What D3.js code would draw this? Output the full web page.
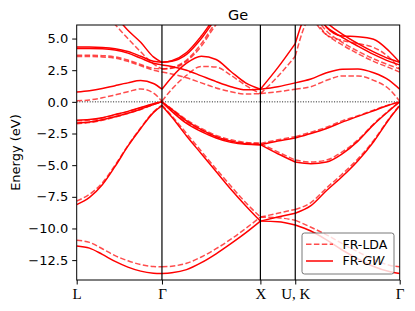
<!DOCTYPE html>
<html>
<head>
<meta charset="utf-8">
<script src="https://cdn.jsdelivr.net/npm/d3@7"></script>
<style>
  body { margin: 0; background: #fff; }
  svg { display: block; }
</style>
</head>
<body>
<div id="chart"></div>
<script>
"use strict"

// k-path: high-symmetry points and labels
let kTicks = [0, 0.866, 1.866, 2.220, 3.281];
let kLabels = ["L", "Γ", "X", "U, K", "Γ"];
let yTicks = [-12.5, -10, -7.5, -5, -2.5, 0, 2.5, 5];

// sample points along the path (L-Γ, Γ-X, X-U, K-Γ)
let kPoints = [0, 0.130, 0.260, 0.390, 0.520, 0.650, 0.779, 0.866,
    0.966, 1.116, 1.266, 1.416, 1.566, 1.716, 1.866,
    2.043, 2.220,
    2.379, 2.538, 2.697, 2.857, 3.016, 3.175, 3.281];
let segBreaks = [0, 7, 14, 16, 23];

// FR-GW bands (eV)
let gw1 = [-11.38, -11.55, -12.05, -12.6, -13.05, -13.37, -13.53, -13.56, -13.5, -13.25, -12.7, -12.0, -11.2, -10.35, -9.42, -9.46, -9.72, -10.2, -10.9, -11.7, -12.4, -13.0, -13.4, -13.56];
let gw2 = [-8.12, -7.55, -6.55, -5.1, -3.5, -2.1, -0.85, -0.3, -1.2, -2.7, -4.1, -5.5, -6.9, -8.2, -9.42, -9.1, -8.8, -8.2, -7.0, -5.9, -4.65, -3.15, -1.35, -0.3];
let gw3 = [-1.68, -1.6, -1.42, -1.17, -0.9, -0.58, -0.22, 0, -0.75, -1.7, -2.35, -2.85, -3.2, -3.35, -3.38, -4.1, -4.75, -4.88, -4.75, -4.1, -3.1, -1.8, -0.7, 0];
let gw4 = [-1.45, -1.4, -1.25, -1.0, -0.75, -0.45, -0.15, 0, -0.6, -1.5, -2.2, -2.75, -3.1, -3.3, -3.38, -3.1, -2.85, -2.5, -2.1, -1.6, -1.15, -0.7, -0.25, 0];
let gw5 = [0.78, 0.88, 1.05, 1.28, 1.5, 1.68, 1.45, 1.0, 1.95, 3.05, 3.6, 3.35, 2.4, 1.5, 1.0, 1.2, 1.5, 1.8, 2.3, 2.58, 2.6, 2.3, 1.7, 1.0];
let gw6 = [4.22, 4.22, 4.2, 4.1, 3.85, 3.45, 3.05, 2.92, 2.8, 2.5, 2.05, 1.6, 1.2, 0.95, 1.0, 2.7, 4.6, 7.3, 5.9, 5.1, 4.4, 3.75, 3.2, 2.92];
let gw7 = [4.33, 4.33, 4.3, 4.2, 3.97, 3.6, 3.2, 3.12, 3.25, 3.9, 5.2, 6.8, 8.0, 8.8, 9.2, 9.4, 9.5, 8.0, 6.3, 5.35, 4.6, 3.95, 3.4, 3.12];
let gw8 = [9.0, 8.5, 7.8, 6.8, 5.65, 4.7, 3.55, 3.12, 3.2, 3.75, 5.0, 6.6, 7.8, 8.6, 9.0, 9.6, 9.8, 8.5, 5.9, 5.2, 5.15, 4.95, 4.0, 3.12];

// FR-LDA bands (eV)
let lda1 = [-10.93, -11.1, -11.6, -12.15, -12.55, -12.85, -13.0, -13.03, -12.98, -12.75, -12.25, -11.6, -10.85, -10.0, -9.1, -9.15, -9.35, -9.9, -10.5, -11.2, -11.85, -12.45, -12.9, -13.03];
let lda2 = [-7.83, -7.3, -6.4, -5.0, -3.45, -2.05, -0.8, -0.25, -1.1, -2.5, -3.9, -5.3, -6.65, -7.95, -9.1, -8.8, -8.5, -7.95, -6.8, -5.7, -4.5, -3.05, -1.3, -0.25];
let lda3 = [-1.72, -1.64, -1.46, -1.2, -0.92, -0.6, -0.22, 0, -0.7, -1.6, -2.25, -2.75, -3.1, -3.25, -3.28, -3.95, -4.6, -4.75, -4.6, -3.95, -3.0, -1.75, -0.65, 0];
let lda4 = [-1.5, -1.44, -1.28, -1.03, -0.77, -0.47, -0.16, 0, -0.55, -1.42, -2.1, -2.65, -3.0, -3.2, -3.28, -3.0, -2.75, -2.4, -2.0, -1.5, -1.1, -0.65, -0.22, 0];
let lda5 = [0.08, 0.15, 0.32, 0.55, 0.8, 1.02, 0.7, 0.05, 1.0, 2.1, 2.8, 2.75, 2.1, 1.3, 0.65, 0.8, 1.0, 1.2, 1.7, 2.05, 2.05, 1.7, 1.0, 0.05];
let lda6 = [3.58, 3.58, 3.55, 3.45, 3.2, 2.85, 2.5, 2.35, 2.2, 1.9, 1.5, 1.1, 0.8, 0.62, 0.65, 2.0, 3.6, 6.6, 5.3, 4.5, 3.8, 3.2, 2.7, 2.35];
let lda7 = [3.68, 3.68, 3.65, 3.55, 3.3, 2.95, 2.65, 2.6, 2.7, 3.3, 4.6, 6.3, 7.5, 8.3, 8.8, 9.0, 9.2, 7.2, 5.6, 4.7, 4.0, 3.4, 2.9, 2.6];
let lda8 = [8.5, 8.0, 7.2, 6.1, 5.0, 3.95, 3.0, 2.6, 2.65, 3.2, 4.4, 6.1, 7.3, 8.1, 8.6, 9.2, 9.4, 6.8, 5.3, 4.85, 4.6, 4.3, 3.5, 2.6];

let gwBands = [gw1, gw2, gw3, gw4, gw5, gw6, gw7, gw8];
let ldaBands = [lda1, lda2, lda3, lda4, lda5, lda6, lda7, lda8];

let drawingWidth = 415;
let drawingHeight = 311;
let plotLeft = 76.7, plotRight = 399.7, plotTop = 25, plotBottom = 280;

let drawing = d3.select("#chart")
    .append("svg")
    .attr("width", drawingWidth)
    .attr("height", drawingHeight);

let x = d3.scaleLinear().domain([0, 3.281]).range([plotLeft, plotRight]);
let y = d3.scaleLinear().domain([-14.07, 6.07]).range([plotBottom, plotTop]);

drawing.append("clipPath").attr("id", "plotclip")
    .append("rect")
    .attr("x", plotLeft).attr("y", plotTop)
    .attr("width", plotRight - plotLeft).attr("height", plotBottom - plotTop);

let plot = drawing.append("g").attr("clip-path", "url(#plotclip)");

// zero line
plot.append("line")
    .attr("x1", plotLeft).attr("x2", plotRight)
    .attr("y1", y(0)).attr("y2", y(0))
    .attr("stroke", "black")
    .attr("stroke-width", 0.9)
    .attr("stroke-dasharray", "1,1.6");

let line = d3.line()
    .x(d => x(d[0]))
    .y(d => y(d[1]))
    .curve(d3.curveMonotoneX);

/* each band is drawn segment by segment so kinks stay at the symmetry points */
function drawBands(bands, color, width, dash, opacity) {
    bands.forEach(band => {
        for (let s = 0; s < segBreaks.length - 1; s++) {
            let pts = [];
            for (let i = segBreaks[s]; i <= segBreaks[s + 1]; i++) {
                pts.push([kPoints[i], band[i]]);
            }
            plot.append("path")
                .attr("d", line(pts))
                .attr("fill", "none")
                .attr("stroke", color)
                .attr("stroke-width", width)
                .attr("stroke-opacity", opacity)
                .attr("stroke-dasharray", dash);
        }
    });
}

drawBands(ldaBands, "red", 1.5, "5.5,2.4", 0.7);
drawBands(gwBands, "red", 1.5, null, 1);

// vertical lines at inner symmetry points
plot.selectAll(".kline")
    .data(kTicks.slice(1, 4))
    .enter().append("line")
    .attr("x1", d => x(d)).attr("x2", d => x(d))
    .attr("y1", plotTop).attr("y2", plotBottom)
    .attr("stroke", "black")
    .attr("stroke-width", 1.2);

// frame
drawing.append("rect")
    .attr("x", plotLeft).attr("y", plotTop)
    .attr("width", plotRight - plotLeft).attr("height", plotBottom - plotTop)
    .attr("fill", "none")
    .attr("stroke", "black")
    .attr("stroke-width", 1);

// axes
let yAxis = drawing.append("g")
    .attr("transform", `translate(${plotLeft},0)`)
    .call(d3.axisLeft(y).tickValues(yTicks).tickFormat(d3.format(".1f")).tickSize(4.5).tickPadding(4))
    .attr("font-family", "DejaVu Sans")
    .attr("font-size", 13);
yAxis.select(".domain").remove();
yAxis.selectAll("line").attr("stroke", "black");
yAxis.selectAll("text").attr("fill", "black");

let xAxis = drawing.append("g")
    .attr("transform", `translate(0,${plotBottom})`)
    .call(d3.axisBottom(x).tickValues(kTicks).tickFormat((d, i) => kLabels[i]).tickSize(4.5).tickPadding(4))
    .attr("font-family", "Liberation Serif")
    .attr("font-size", 15);
xAxis.select(".domain").remove();
xAxis.selectAll("line").attr("stroke", "black");
xAxis.selectAll("text").attr("fill", "black");

// title and label
drawing.append("text")
    .attr("x", (plotLeft + plotRight) / 2)
    .attr("y", 20)
    .attr("text-anchor", "middle")
    .attr("font-family", "DejaVu Sans")
    .attr("font-size", 14.5)
    .text("Ge");

drawing.append("text")
    .attr("transform", `translate(20,${(plotTop + plotBottom) / 2}) rotate(-90)`)
    .attr("text-anchor", "middle")
    .attr("font-family", "DejaVu Sans")
    .attr("font-size", 13)
    .text("Energy (eV)");

// legend
let legend = drawing.append("g");
legend.append("rect")
    .attr("x", 302).attr("y", 233)
    .attr("width", 92).attr("height", 41)
    .attr("rx", 2.5)
    .attr("fill", "white")
    .attr("fill-opacity", 0.8)
    .attr("stroke", "#555")
    .attr("stroke-width", 0.8);

let legendItems = [
    { name: "FR-LDA", dash: "5.5,2.4", opacity: 0.7 },
    { name: "FR-", italic: "GW", dash: null, opacity: 1 }
];
legendItems.forEach((item, i) => {
    let ly = 244.3 + i * 16.7;
    legend.append("line")
        .attr("x1", 306).attr("x2", 333)
        .attr("y1", ly).attr("y2", ly)
        .attr("stroke", "red")
        .attr("stroke-width", 1.5)
        .attr("stroke-opacity", item.opacity)
        .attr("stroke-dasharray", item.dash);
    let t = legend.append("text")
        .attr("x", 342.5).attr("y", ly + 4.3)
        .attr("font-family", "DejaVu Sans")
        .attr("font-size", 12.5)
        .text(item.name);
    if (item.italic) {
        t.append("tspan").attr("font-style", "italic").text(item.italic);
    }
});
</script>
</body>
</html>
